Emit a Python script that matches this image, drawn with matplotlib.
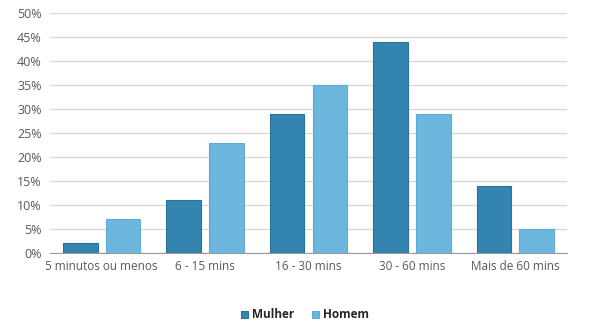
import matplotlib.pyplot as plt
import numpy as np
from matplotlib.ticker import PercentFormatter

categories = ['5 minutos ou menos', '6 - 15 mins', '16 - 30 mins', '30 - 60 mins', 'Mais de 60 mins']
mulher = [2, 11, 29, 44, 14]
homem = [7, 23, 35, 29, 5]

dark = '#3385b0'
light = '#6cb7dd'

plt.rcParams['font.family'] = ['Open Sans', 'DejaVu Sans']

fig = plt.figure(figsize=(5.97, 3.30), dpi=100)
ax = fig.add_axes([50 / 597, 1 - 253 / 330, 517 / 597, 240 / 330])

x = np.arange(len(categories))
w = 0.335
gap = 0.08
ax.bar(x - (w + gap) / 2, mulher, w, color=dark, edgecolor='#2a7199', linewidth=0.8, label='Mulher', zorder=3)
ax.bar(x + (w + gap) / 2, homem, w, color=light, edgecolor='#5eaad2', linewidth=0.8, label='Homem', zorder=3)

ax.set_xlim(-0.5, len(categories) - 0.5)
ax.set_ylim(0, 50)
ax.set_yticks(range(0, 51, 5))
ax.yaxis.set_major_formatter(PercentFormatter(decimals=0))
ax.set_xticks(x)
ax.set_xticklabels(categories, fontsize=8.5)
ax.grid(axis='y', color='#d9d9d9', linewidth=1, zorder=0)
for s in ['top', 'right', 'left']:
    ax.spines[s].set_visible(False)
ax.spines['bottom'].set_color('#9a9a9a')
ax.tick_params(axis='both', length=0, colors='#595959')
ax.tick_params(axis='y', labelsize=9, pad=6)
ax.tick_params(axis='x', pad=5)

leg = fig.legend(loc='center', bbox_to_anchor=(305 / 597, 1 - 315 / 330), ncol=2, frameon=False,
                 handlelength=0.6, handleheight=0.6, handletextpad=0.3, columnspacing=1.5,
                 prop={'size': 8.5, 'weight': 'bold'})
for t in leg.get_texts():
    t.set_color('#262626')

fig.savefig('out.png', dpi=100)
